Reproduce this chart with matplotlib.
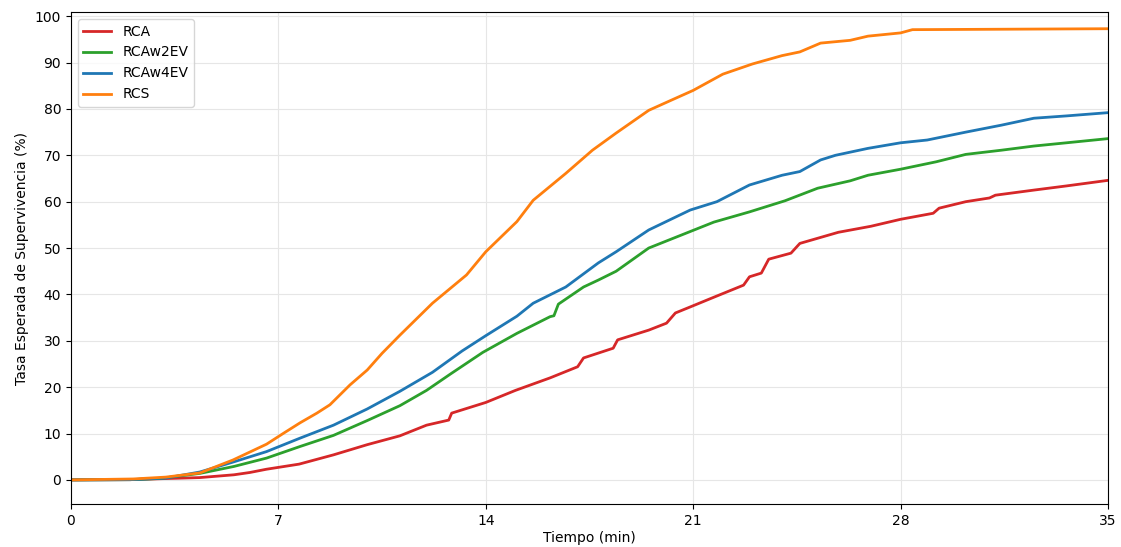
import matplotlib
matplotlib.use("Agg")
import matplotlib.pyplot as plt

# Data
rca_t = [0, 2, 3, 4.35, 5.5, 6.04, 6.6, 7.7, 8.86, 10, 11.1, 12, 12.75, 12.85, 14, 15, 16.17,
         17.1, 17.3, 18.3, 18.45, 19.5, 20.1, 20.4, 20.9, 21.7, 22.7, 22.9, 23.3, 23.55,
         24.3, 24.6, 25.9, 27, 28, 29.1, 29.3, 30.2, 31.0, 31.2, 32.5, 33.6, 35]
rca_v = [0, 0.05, 0.25, 0.5, 1.1, 1.6, 2.3, 3.4, 5.4, 7.6, 9.5, 11.8, 12.9, 14.4, 16.7, 19.3,
         22.0, 24.4, 26.3, 28.4, 30.2, 32.3, 33.8, 36.0, 37.3, 39.4, 42.0, 43.8, 44.6, 47.6,
         48.9, 51.0, 53.4, 54.7, 56.2, 57.5, 58.6, 60.0, 60.8, 61.4, 62.5, 63.4, 64.6]

rcaw2ev_t = [0, 2, 3, 4.35, 5.5, 6.6, 7.73, 8.86, 10, 11.1, 12.0, 12.8, 13.9, 15.05,
             16.17, 16.3, 16.45, 17.3, 17.8, 18.4, 19.5, 20.6, 21.7, 22.9, 24.1, 25.2, 26.3,
             26.9, 28.0, 29.2, 30.2, 31.4, 32.5, 33.6, 35]
rcaw2ev_v = [0, 0.05, 0.3, 1.4, 2.9, 4.7, 7.2, 9.6, 12.8, 16.0, 19.3, 22.8, 27.5, 31.6,
             35.2, 35.4, 37.9, 41.6, 43.1, 45.0, 50.0, 52.8, 55.6, 57.8, 60.2, 62.9, 64.5,
             65.7, 67.0, 68.6, 70.2, 71.1, 72.0, 72.7, 73.6]

rcaw4ev_t = [0, 2, 3.2, 4.35, 5.5, 6.6, 7.73, 8.86, 10, 11.1, 12.2, 13.2, 14.0, 15.05,
             15.6, 16.7, 17.8, 18.4, 19.5, 20.9, 21.8, 22.9, 24.0, 24.6, 25.3, 25.8, 26.9,
             28.0, 28.9, 30.2, 31.4, 32.5, 33.6, 35]
rcaw4ev_v = [0, 0.05, 0.4, 1.7, 3.9, 6.1, 9.0, 11.8, 15.3, 19.1, 23.2, 27.8, 31.1, 35.3,
             38.1, 41.6, 46.8, 49.2, 53.9, 58.2, 60.0, 63.6, 65.7, 66.5, 69.0, 70.0, 71.5,
             72.7, 73.3, 75.0, 76.5, 78.0, 78.5, 79.2]

rcs_t = [0, 2.1, 3.2, 4.35, 5.47, 6.6, 7.16, 7.73, 8.3, 8.74, 9.42, 10.0, 10.5, 11.1, 12.2,
         13.35, 14.0, 15.05, 15.6, 16.7, 17.6, 18.4, 19.5, 20.3, 21, 22, 23, 24, 24.6, 25.3,
         26.3, 26.9, 28.0, 28.4, 35]
rcs_v = [0, 0.2, 0.6, 1.5, 4.3, 7.7, 10.0, 12.3, 14.4, 16.2, 20.5, 23.7, 27.3, 31.2, 38.1,
         44.2, 49.2, 55.7, 60.3, 66.1, 71.1, 74.8, 79.7, 82.0, 84.0, 87.5, 89.7, 91.5, 92.3,
         94.2, 94.8, 95.7, 96.4, 97.1, 97.3]

labels = ["RCA", "RCAw2EV", "RCAw4EV", "RCS"]
xticks = [0, 7, 14, 21, 28, 35]
yticks = [0, 10, 20, 30, 40, 50, 60, 70, 80, 90, 100]

fig = plt.figure(figsize=(11.21, 5.47), dpi=100)
ax = fig.add_axes([0.0633, 0.0786, 0.9251, 0.8994])

ax.plot(rca_t, rca_v, color="#d62728", lw=2, label=labels[0])
ax.plot(rcaw2ev_t, rcaw2ev_v, color="#2ca02c", lw=2, label=labels[1])
ax.plot(rcaw4ev_t, rcaw4ev_v, color="#1f77b4", lw=2, label=labels[2])
ax.plot(rcs_t, rcs_v, color="#ff7f0e", lw=2, label=labels[3])

ax.set_xlim(0, 35)
ax.set_ylim(-5.2, 100.9)
ax.set_xticks(xticks)
ax.set_yticks(yticks)
ax.grid(True, color="#e6e6e6", linewidth=0.8)
ax.set_xlabel("Tiempo (min)", labelpad=2)
ax.set_ylabel("Tasa Esperada de Supervivencia (%)")
ax.legend(loc="upper left")

fig.savefig("out.png", dpi=100)
